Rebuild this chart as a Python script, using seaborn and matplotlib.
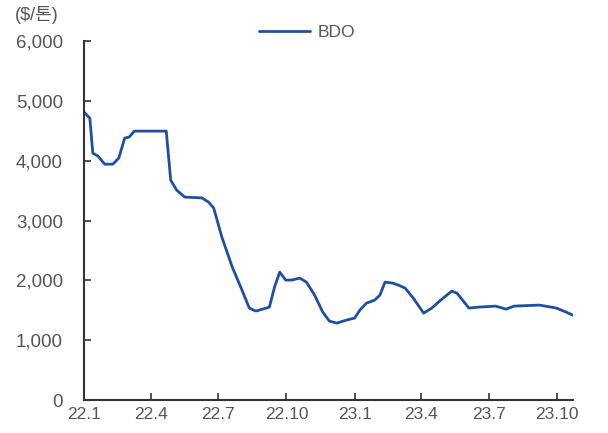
import matplotlib
matplotlib.use("Agg")
import matplotlib.pyplot as plt
import seaborn as sns
import pandas as pd

dates = ["2022-01-01", "2022-01-09", "2022-01-13", "2022-01-20", "2022-01-29",
         "2022-02-09", "2022-02-17", "2022-02-25", "2022-03-03", "2022-03-10",
         "2022-04-22", "2022-04-28", "2022-05-06", "2022-05-17", "2022-06-09",
         "2022-06-18", "2022-06-25", "2022-07-06", "2022-07-20", "2022-08-01",
         "2022-08-12", "2022-08-21", "2022-09-08", "2022-09-15", "2022-09-22",
         "2022-09-30", "2022-10-08", "2022-10-19", "2022-10-28", "2022-11-08",
         "2022-11-19", "2022-11-28", "2022-12-08", "2022-12-21", "2023-01-01",
         "2023-01-08", "2023-01-17", "2023-01-28", "2023-02-04", "2023-02-11",
         "2023-02-21", "2023-03-01", "2023-03-10", "2023-03-21", "2023-04-04",
         "2023-04-15", "2023-04-27", "2023-05-12", "2023-05-19", "2023-06-04",
         "2023-06-17", "2023-07-10", "2023-07-24", "2023-08-04", "2023-09-07",
         "2023-09-30", "2023-10-13", "2023-10-22"]
bdo = [4814, 4713, 4128, 4078, 3944,
       3944, 4045, 4379, 4396, 4496,
       4496, 3677, 3510, 3393, 3380,
       3310, 3209, 2724, 2223, 1872,
       1538, 1488, 1554, 1889, 2139,
       2006, 2006, 2039, 1972, 1755,
       1471, 1320, 1287, 1337, 1371,
       1504, 1621, 1671, 1755, 1972,
       1956, 1922, 1872, 1705, 1454,
       1538, 1671, 1822, 1788, 1538,
       1554, 1571, 1521, 1571, 1588,
       1538, 1471, 1421]
tick_dates = ["2022-01-01", "2022-04-01", "2022-07-01", "2022-10-01",
              "2023-01-01", "2023-04-01", "2023-07-01", "2023-10-01"]
tick_labels = ["22.1", "22.4", "22.7", "22.10", "23.1", "23.4", "23.7", "23.10"]
y_ticks = [0, 1000, 2000, 3000, 4000, 5000, 6000]

df = pd.DataFrame({"date": pd.to_datetime(dates), "BDO": bdo})

sns.set_style("white")
plt.rcParams["font.family"] = ["Liberation Sans", "Noto Sans CJK KR", "DejaVu Sans"]

fig = plt.figure(figsize=(6.08, 4.33), dpi=100)
ax = fig.add_axes([0.138, 0.076, 0.804, 0.829])

sns.lineplot(data=df, x="date", y="BDO", ax=ax, color="#1f4fa3", linewidth=2.0,
             label="BDO", solid_joinstyle="round", solid_capstyle="round")

ax.set_xlim(pd.Timestamp("2022-01-01"), pd.Timestamp("2023-10-22"))
ax.set_ylim(0, 6000)
ax.set_yticks(y_ticks)
ax.set_yticklabels([f"{v:,}" for v in y_ticks])
ax.set_xticks(pd.to_datetime(tick_dates))
ax.set_xticklabels(tick_labels)
ax.set_xlabel("")
ax.set_ylabel("")

for s in ["top", "right"]:
    ax.spines[s].set_visible(False)
for s in ["left", "bottom"]:
    ax.spines[s].set_color("#333333")
    ax.spines[s].set_linewidth(1.5)

ax.tick_params(axis="y", direction="in", length=5, width=1.2, color="#333333",
               labelsize=13.5, labelcolor="#555555", pad=15, left=True)
ax.tick_params(axis="x", direction="in", length=5, width=1.2, color="#333333",
               labelsize=12.5, labelcolor="#555555", pad=5, bottom=True)

ax.get_legend().remove()
fig.legend(loc="center", bbox_to_anchor=(0.505, 0.926), frameon=False,
           fontsize=12.5, handlelength=2.9, handletextpad=0.45, labelcolor="#555555")

fig.text(0.025, 0.965, r"(\$/톤)", fontsize=13, color="#555555", va="center", ha="left")

fig.savefig("out.png", dpi=100)
